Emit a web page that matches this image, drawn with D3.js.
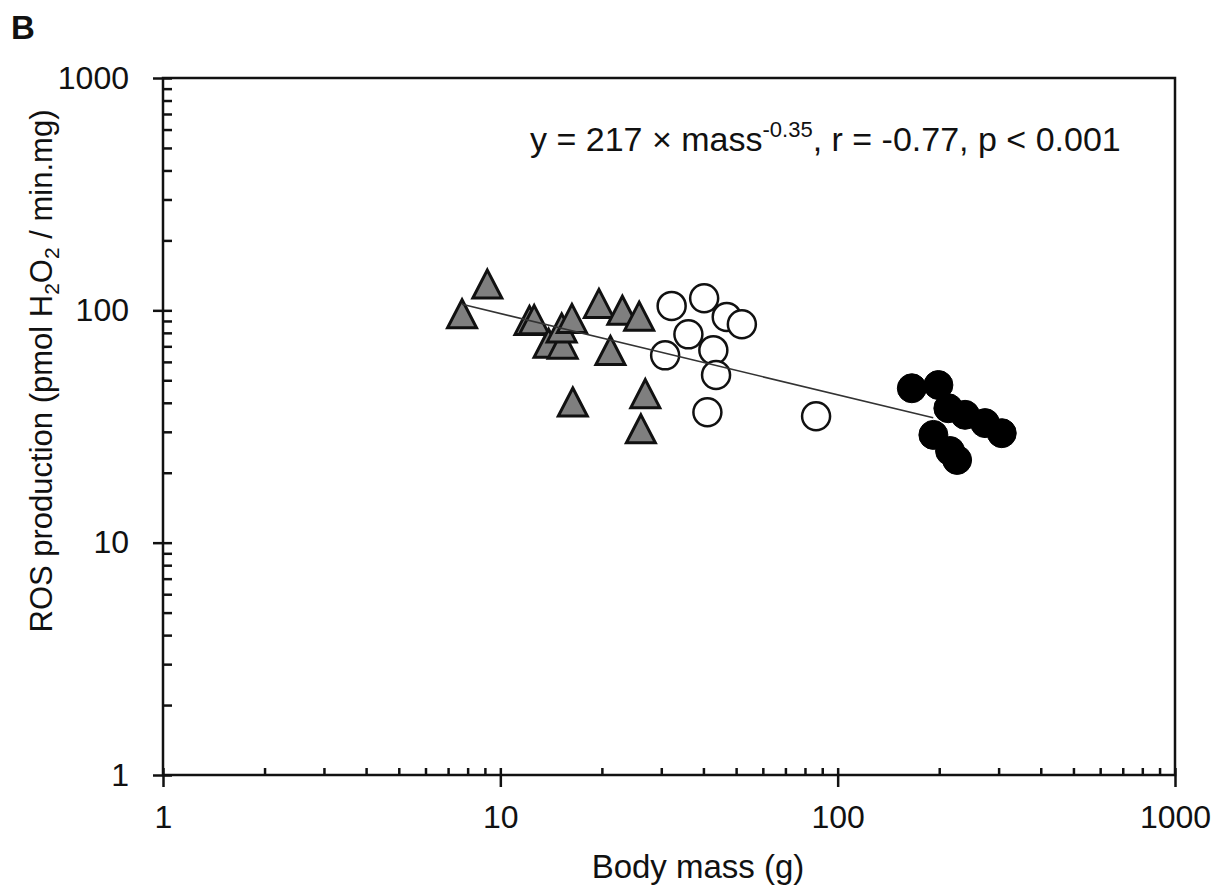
<!DOCTYPE html>
<html>
<head>
<meta charset="utf-8">
<script src="https://cdn.jsdelivr.net/npm/d3@7"></script>
<style>
  body { margin: 0; background: #fff; }
  text { font-family: Arial, "Liberation Sans", sans-serif; fill: #111; }
</style>
</head>
<body>
<svg id="chart" width="1226" height="885"></svg>
<script>
// groups: body mass (g) and ROS production
var triMass = [7.7, 9.15, 12.2, 12.6, 13.9, 15.3, 15.2, 16.3, 19.6, 23.0, 25.8, 21.2, 16.4, 26.9, 26.1];
var triRos  = [96.7, 129.7, 90.5, 91.2, 72.2, 71.5, 84.0, 92.3, 107.1, 100.1, 94.4, 67.2, 40.3, 43.8, 30.9];

var openMass = [32.2, 40.2, 46.9, 52.0, 36.1, 42.8, 30.8, 43.6, 41.1, 86.3];
var openRos  = [104.5, 112.8, 93.7, 87.1, 78.8, 67.4, 64.0, 52.7, 36.4, 35.0];

var blackMass = [165.9, 198.9, 212.9, 238.6, 273.5, 306.5, 192.2, 215.4, 226];
var blackRos  = [46.2, 47.7, 37.9, 35.5, 32.7, 29.6, 29.1, 24.8, 22.7];

// fitted power law shown in the panel
var fitA = 217, fitB = -0.35;
var fitRange = [7.7, 192];

var majorTicks = [1, 10, 100, 1000];
var tickLabels = ["1", "10", "100", "1000"];

var svg = d3.select('#chart');

var x = d3.scaleLog().domain([1, 1000]).range([163, 1175]);
var y = d3.scaleLog().domain([1, 1000]).range([775, 78]);

var minorTicks = [];
[1, 10, 100].forEach(function(dec) {
    for (var k = 2; k <= 9; k++) minorTicks.push(dec * k);
});

// frame
svg.append('rect')
    .attr('x', x(1)).attr('y', y(1000))
    .attr('width', x(1000) - x(1)).attr('height', y(1) - y(1000))
    .attr('fill', 'none').attr('stroke', '#111').attr('stroke-width', 2.5);

function styleAxis(g) {
    g.select('.domain').remove();
    g.selectAll('line').attr('stroke', '#111').attr('stroke-width', 2.5);
}

// minor ticks, inward
svg.append('g')
    .attr('transform', `translate(0,${y(1)})`)
    .call(d3.axisBottom(x).tickValues(minorTicks.concat(majorTicks)).tickSize(-7).tickFormat(''))
    .call(styleAxis);
svg.append('g')
    .attr('transform', `translate(${x(1)},0)`)
    .call(d3.axisLeft(y).tickValues(minorTicks.concat(majorTicks)).tickSize(-9).tickFormat(''))
    .call(styleAxis);

// major ticks, outward with labels
var xAx = svg.append('g')
    .attr('transform', `translate(0,${y(1)})`)
    .call(d3.axisBottom(x).tickValues(majorTicks).tickSize(12).tickPadding(18)
        .tickFormat((d, i) => tickLabels[i]))
    .call(styleAxis);
xAx.selectAll('text').attr('font-size', 32).attr('fill', '#111');

var yAx = svg.append('g')
    .attr('transform', `translate(${x(1)},0)`)
    .call(d3.axisLeft(y).tickValues(majorTicks).tickSize(10).tickPadding(24)
        .tickFormat((d, i) => tickLabels[i]))
    .call(styleAxis);
yAx.selectAll('text').attr('font-size', 32).attr('fill', '#111');

// triangles
var triW = 29, triH = 28;
var triPath = `M0,${-triH / 2}L${triW / 2},${triH / 2}L${-triW / 2},${triH / 2}Z`;
svg.append('g').selectAll('path')
    .data(triMass.map((m, i) => ({ m: m, r: triRos[i] })))
    .enter().append('path')
    .attr('d', triPath)
    .attr('transform', d => `translate(${x(d.m)},${y(d.r)})`)
    .attr('fill', '#7f7f7f')
    .attr('stroke', '#111')
    .attr('stroke-width', 3)
    .attr('stroke-linejoin', 'miter');

// open circles
svg.append('g').selectAll('circle')
    .data(openMass.map((m, i) => ({ m: m, r: openRos[i] })))
    .enter().append('circle')
    .attr('cx', d => x(d.m))
    .attr('cy', d => y(d.r))
    .attr('r', 14)
    .attr('fill', '#fff')
    .attr('stroke', '#111')
    .attr('stroke-width', 2.5);

// regression line
var fitLine = d3.line().x(d => x(d)).y(d => y(fitA * Math.pow(d, fitB)));
svg.append('path')
    .attr('d', fitLine(fitRange))
    .attr('fill', 'none')
    .attr('stroke', '#333')
    .attr('stroke-width', 1.6);

// filled circles
svg.append('g').selectAll('circle')
    .data(blackMass.map((m, i) => ({ m: m, r: blackRos[i] })))
    .enter().append('circle')
    .attr('cx', d => x(d.m))
    .attr('cy', d => y(d.r))
    .attr('r', 14.5)
    .attr('fill', '#000')
    .attr('stroke', '#000')
    .attr('stroke-width', 1);

// equation
var eq = svg.append('text')
    .attr('x', 530).attr('y', 151)
    .attr('font-size', 34);
eq.append('tspan').text('y = 217 × mass');
eq.append('tspan').attr('font-size', 22).attr('dy', -14).text('-0.35');
eq.append('tspan').attr('dy', 14).text(', r = -0.77, p < 0.001');

// axis titles
svg.append('text')
    .attr('x', (x(1) + x(1000)) / 2 + 29).attr('y', 878)
    .attr('text-anchor', 'middle')
    .attr('font-size', 33)
    .text('Body mass (g)');

var yt = svg.append('text')
    .attr('transform', 'translate(52,371) rotate(-90)')
    .attr('text-anchor', 'middle')
    .attr('font-size', 31);
yt.append('tspan').text('ROS production (pmol H');
yt.append('tspan').attr('font-size', 21).attr('dy', 7).text('2');
yt.append('tspan').attr('dy', -7).text('O');
yt.append('tspan').attr('font-size', 21).attr('dy', 7).text('2');
yt.append('tspan').attr('dy', -7).text(' / min.mg)');

// panel letter
svg.append('text')
    .attr('x', 11).attr('y', 39)
    .attr('font-size', 33)
    .attr('font-weight', 'bold')
    .text('B');
</script>
</body>
</html>
